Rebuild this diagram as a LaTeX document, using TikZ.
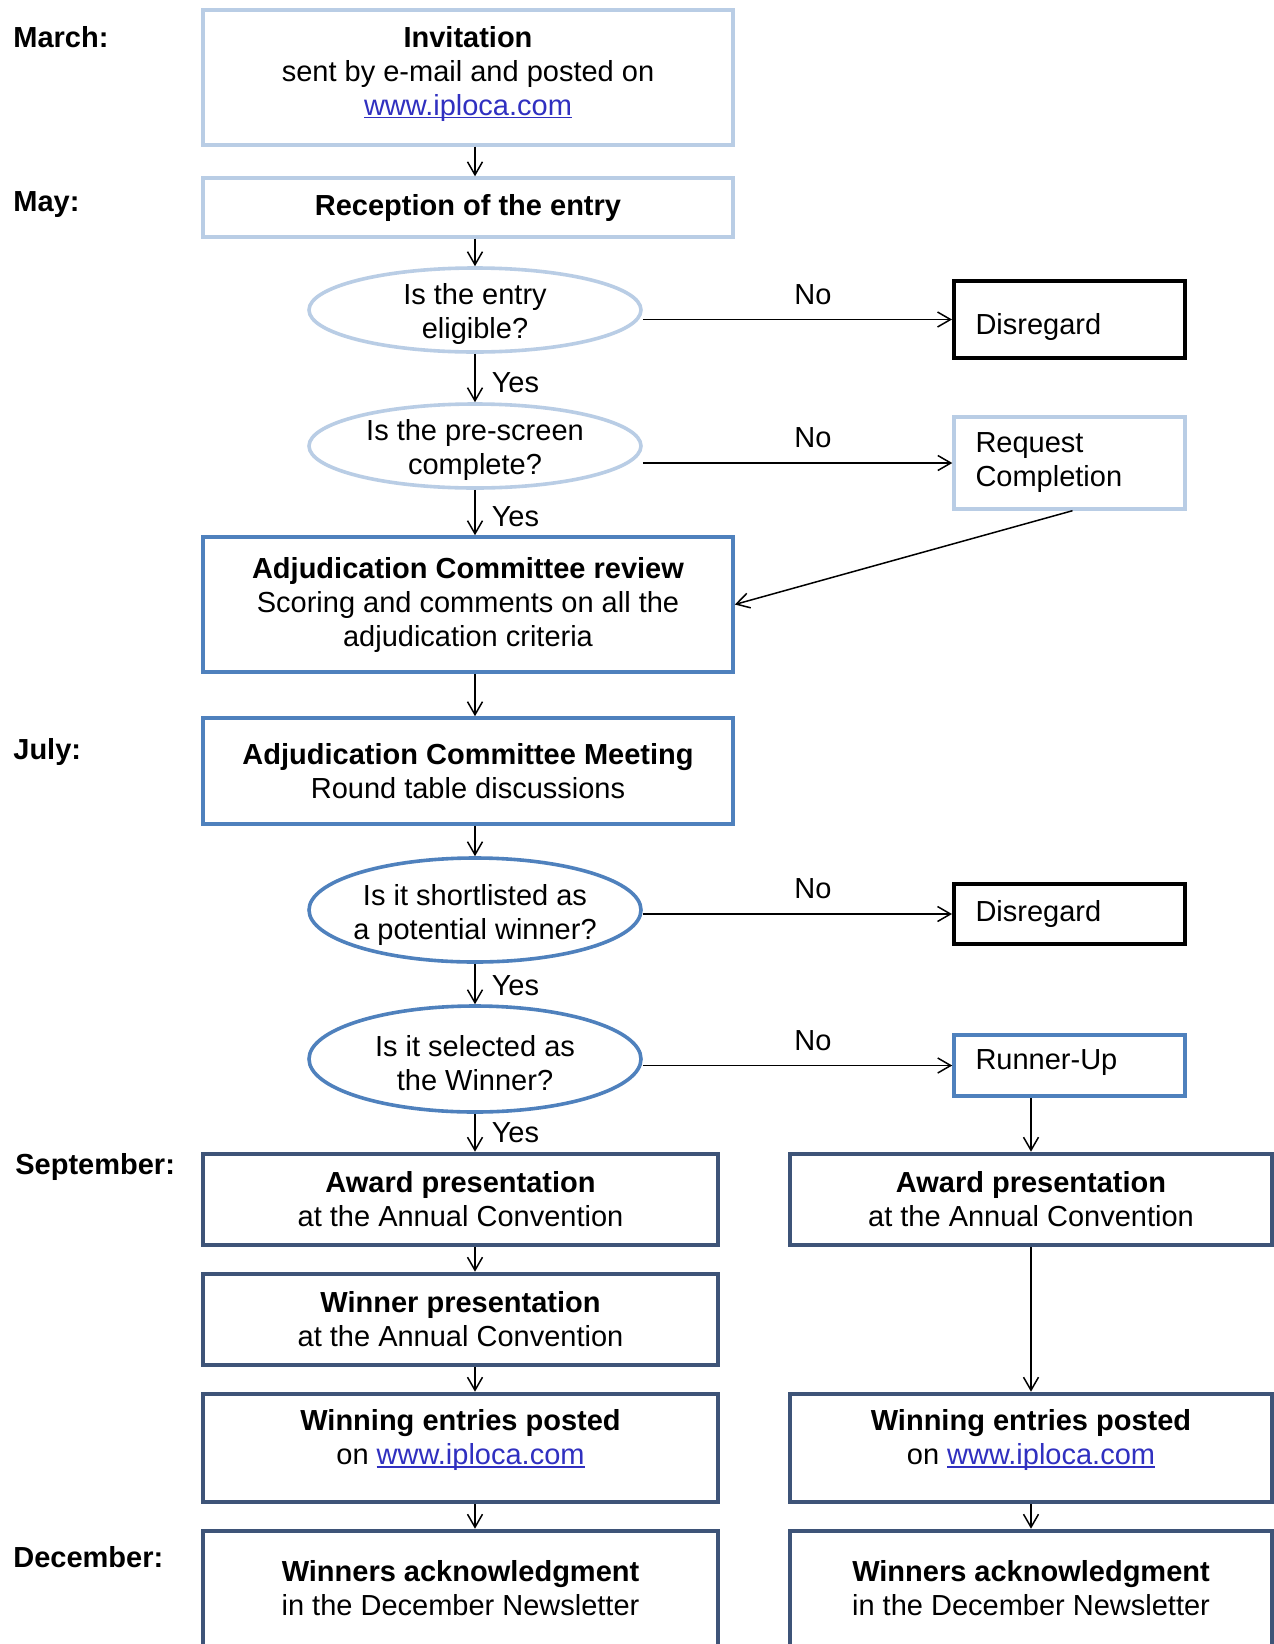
\documentclass[tikz,border=0pt]{standalone}
\usepackage{fontspec}
\setmainfont{Liberation Sans}
\usetikzlibrary{arrows.meta,shapes.geometric}
\definecolor{lightbd}{HTML}{B9CDE5}
\definecolor{medbd}{HTML}{4F81BD}
\definecolor{darkbd}{HTML}{3E5478}
\definecolor{linkblue}{HTML}{3030C0}
\newcommand\lnk[1]{\textcolor{linkblue}{\setbox0\hbox{#1}\rlap{\rule[-1.6pt]{\wd0}{0.7pt}}\box0}}
\begin{document}
\begin{tikzpicture}[x=0.5pt,y=-0.5pt,
  font=\fontsize{14.5pt}{17pt}\selectfont,
  base/.style={rectangle, inner sep=0pt, align=center, text=black},
  lightbox/.style={base, draw=lightbd, line width=1.7pt},
  medbox/.style={base, draw=medbd, line width=1.8pt},
  darkbox/.style={base, draw=darkbd, line width=2.3pt},
  blackbox/.style={base, draw=black, line width=2pt},
  sidebox/.style={text width=94pt, align=left, minimum width=115.5pt},
  dec/.style={ellipse, inner sep=0pt, line width=1.8pt, minimum width=166pt},
  arr/.style={-{Straight Barb[length=6.5pt,width=7.5pt]}, line width=0.75pt},
  month/.style={anchor=west, inner sep=0pt, font=\fontsize{14.5pt}{17pt}\selectfont\bfseries},
  lab/.style={inner sep=1pt}]
\fill[white] (0,0) rectangle (1274,1644);
\clip (0,0) rectangle (1274,1644);

% month labels
\node[month] (m1) at (13,37) {March:};
\node[month] (m2) at (13,205) {May:};
\node[month] (m3) at (13,752) {July:};
\node[month] (m4) at (15,1167) {September:};
\node[month] (m5) at (13,1557) {December:};

% main column
\node[lightbox, minimum width=265pt, minimum height=67.5pt,
  label={[align=center, yshift=2pt]center:\textbf{Invitation}\\sent by e-mail and posted on\\\lnk{www.iploca.com}}] (inv) at (468,77.5) {};
\node[lightbox, minimum width=265pt, minimum height=29.5pt] (rec) at (468,207.5)
  {\textbf{Reception of the entry}};
\node[dec, draw=lightbd, minimum height=42pt,
  label={[align=center, yshift=-2pt]center:Is the entry\\eligible?}] (e1) at (475,310) {};
\node[dec, draw=lightbd, minimum height=42pt,
  label={[align=center, yshift=-2pt]center:Is the pre-screen\\complete?}] (e2) at (475,446) {};
\node[medbox, minimum width=265pt, minimum height=67.5pt] (acr) at (468,604.5)
  {\textbf{Adjudication Committee review}\\Scoring and comments on all the\\adjudication criteria};
\node[medbox, minimum width=265pt, minimum height=53pt] (acm) at (468,771)
  {\textbf{Adjudication Committee Meeting}\\Round table discussions};
\node[dec, draw=medbd, minimum height=52pt,
  label={[align=center, yshift=-2.5pt]center:Is it shortlisted as\\a potential winner?}] (e3) at (475,910) {};
\node[dec, draw=medbd, minimum height=53pt,
  label={[align=center, yshift=-2pt]center:Is it selected as\\the Winner?}] (e4) at (475,1059) {};

% side boxes
\node[blackbox, sidebox, minimum height=38.5pt,
  label={[text width=94pt, align=left, yshift=-3.5pt]center:Disregard}] (dis1) at (1069.5,319.5) {};
\node[lightbox, sidebox, minimum height=46pt] (req) at (1069.5,463) {Request\\Completion};
\node[blackbox, sidebox, minimum height=30pt] (dis2) at (1069.5,914) {Disregard};
\node[medbox, sidebox, minimum height=30.5pt,
  label={[text width=94pt, align=left, yshift=1.5pt]center:Runner-Up}] (run) at (1069.5,1065.5) {};

% lower left column
\node[darkbox, minimum width=257.5pt, minimum height=45.5pt] (awL) at (460.5,1199.5)
  {\textbf{Award presentation}\\at the Annual Convention};
\node[darkbox, minimum width=257.5pt, minimum height=45.5pt] (wp) at (460.5,1319.5)
  {\textbf{Winner presentation}\\at the Annual Convention};
\node[darkbox, minimum width=257.5pt, minimum height=54pt,
  label={[align=center, yshift=4pt]center:\textbf{Winning entries posted}\\on \lnk{www.iploca.com}}] (weL) at (460.5,1448) {};
\node[darkbox, minimum width=257.5pt, minimum height=64.5pt,
  label={[align=center, yshift=3.7pt]center:\textbf{Winners acknowledgment}\\in the December Newsletter}] (waL) at (460.5,1595.5) {};

% lower right column
\node[darkbox, minimum width=241pt, minimum height=45.5pt] (awR) at (1031,1199.5)
  {\textbf{Award presentation}\\at the Annual Convention};
\node[darkbox, minimum width=241pt, minimum height=54pt,
  label={[align=center, yshift=4pt]center:\textbf{Winning entries posted}\\on \lnk{www.iploca.com}}] (weR) at (1031,1448) {};
\node[darkbox, minimum width=241pt, minimum height=64.5pt,
  label={[align=center, yshift=3.7pt]center:\textbf{Winners acknowledgment}\\in the December Newsletter}] (waR) at (1031,1595.5) {};

% connectors
\draw[arr] (inv.south -| e1.north) -- (rec.north -| e1.north);
\draw[arr] (rec.south -| e1.north) -- (e1.north);
\draw[arr] (e1.south) -- (e2.north) node[lab, right=7pt, pos=0.6] (y1) {Yes};
\draw[arr] (e2.south) -- (e2.south |- acr.north) node[lab, right=7pt, pos=0.6] (y2) {Yes};
\draw[arr] (acr.south -| e1.north) -- (acm.north -| e1.north);
\draw[arr] (acm.south -| e3.north) -- (e3.north);
\draw[arr] (e3.south) -- (e4.north) node[lab, right=7pt, pos=0.55] (y3) {Yes};
\draw[arr] (e4.south) -- (e4.south |- awL.north) node[lab, right=7pt, pos=0.5] (y4) {Yes};
\draw[arr] (awL.south -| e4.south) -- (wp.north -| e4.south);
\draw[arr] (wp.south -| e4.south) -- (weL.north -| e4.south);
\draw[arr] (weL.south -| e4.south) -- (waL.north -| e4.south);

\draw[arr] (e1.east |- dis1.west) -- (dis1.west) node[lab, pos=0.55, above=6pt] (n1) {No};
\draw[arr] (e2.east |- req.west) -- (req.west) node[lab, pos=0.55, above=6pt] (n2) {No};
\draw[arr] (e3.east |- dis2.west) -- (dis2.west) node[lab, pos=0.55, above=6pt] (n3) {No};
\draw[arr] (e4.east |- run.west) -- (run.west) node[lab, pos=0.55, above=6pt] (n4) {No};

\draw[arr] ([xshift=1.5pt]req.south) -- (acr.east);
\draw[arr] (run.south -| awR.north) -- (awR.north);
\draw[arr] (awR.south) -- (weR.north);
\draw[arr] (weR.south) -- (waR.north);
\end{tikzpicture}
\end{document}
